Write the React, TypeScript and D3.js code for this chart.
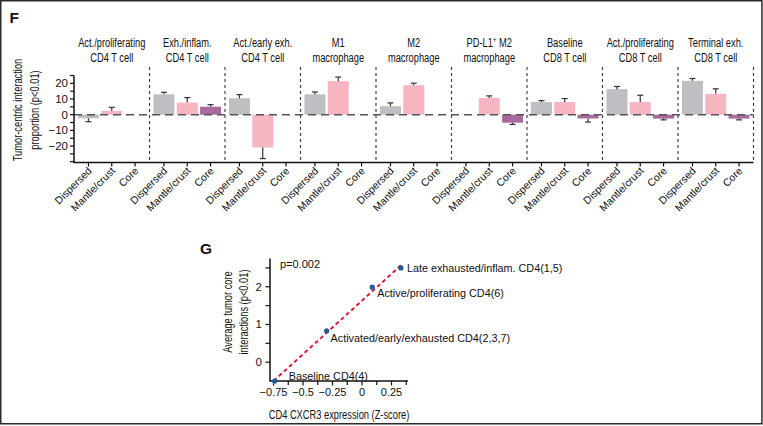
import React from "react";
import * as d3 from "d3";

// ---------- Panel F data ----------
const groupLine1 = [
  "Act./proliferating",
  "Exh./inflam.",
  "Act./early exh.",
  "M1",
  "M2",
  "PD-L1",
  "Baseline",
  "Act./proliferating",
  "Terminal exh.",
];
const groupLine2 = [
  "CD4 T cell",
  "CD4 T cell",
  "CD4 T cell",
  "macrophage",
  "macrophage",
  "macrophage",
  "CD8 T cell",
  "CD8 T cell",
  "CD8 T cell",
];
const zones = ["Dispersed", "Mantle/crust", "Core"];
const dispersedVals = [-2.3, 13, 10.5, 13, 5.4, 0, 8.1, 16.3, 21.6];
const dispersedErr = [2.2, 1.3, 2.3, 1.5, 2.1, 0, 0.9, 1.7, 1.5];
const mantleVals = [2.4, 7.7, -20.9, 21.4, 18.8, 10.7, 8.1, 8.1, 13.3];
const mantleErr = [2.3, 3.2, 7.1, 2.6, 1.3, 1.3, 2.2, 4.3, 3.2];
const coreVals = [0, 5.1, 0, 0, 0, -5.1, -2.4, -2.5, -2.5];
const coreErr = [0, 1.3, 0, 0, 0, 1.1, 2.3, 0.8, 0.8];
const zoneColors = ["#bfbec3", "#f7b5c2", "#a8699c"];
const fYTicks = [-30, -25, -20, -15, -10, -5, 0, 5, 10, 15, 20, 25];
const fYLabels = [-20, -10, 0, 10, 20];

// ---------- Panel G data ----------
const gLabels = [
  "Baseline CD4(4)",
  "Activated/early/exhausted CD4(2,3,7)",
  "Active/proliferating CD4(6)",
  "Late exhausted/inflam. CD4(1,5)",
];
const gX = [-0.74, -0.3, 0.087, 0.33];
const gY = [-0.5, 0.83, 1.99, 2.5];
const fitX = [-0.75, 0.33];
const fitY = [-0.5, 2.57];
const gXTicks = [-0.75, -0.5, -0.25, 0, 0.25];
const gXLabels = ["−0.75", "−0.5", "−0.25", "0", "0.25"];
const gXMinor = [-0.625, -0.375, -0.125, 0.125, 0.375];
const gYTicks = [0, 0.5, 1, 1.5, 2, 2.5];
const gYLabels = [0, 1, 2];

const SANS = "'Liberation Sans', Arial, Helvetica, sans-serif";
const SX = 0.69;

function CText(props: {
  x: number;
  y: number;
  rot?: number;
  size?: number;
  anchor?: string;
  children: React.ReactNode;
}) {
  const { x, y, rot = 0, size = 13.5, anchor = "middle", children } = props;
  return (
    <text
      transform={`translate(${x},${y}) rotate(${rot}) scale(${SX},1)`}
      textAnchor={anchor}
      fontFamily={SANS}
      fontSize={size}
      fill="#111"
    >
      {children}
    </text>
  );
}

const fmt = (v: number) => (v < 0 ? "−" + Math.abs(v) : String(v));

export default function App() {
  // ---- Panel F scales ----
  const groupIdx = groupLine1.map((_, i) => i);
  const xg = d3.scaleBand<number>().domain(groupIdx).range([74, 753.5]).padding(0);
  const xz = d3
    .scalePoint<string>()
    .domain(zones)
    .range([0, xg.bandwidth()])
    .padding(0.62);
  const yF = d3.scaleLinear().domain([-30.5, 25]).range([162.5, 75.5]);
  const barW = 21;
  const series = [
    { vals: dispersedVals, errs: dispersedErr },
    { vals: mantleVals, errs: mantleErr },
    { vals: coreVals, errs: coreErr },
  ];
  const y0 = yF(0);
  const axisBottom = yF(-30.5);

  // ---- Panel G scales ----
  const xG = d3.scaleLinear().domain([-0.78, 0.39]).range([270, 408]);
  const yG = d3.scaleLinear().domain([-0.5, 2.75]).range([381, 258.5]);
  const fitLine = d3
    .line<number>()
    .x((_, i) => xG(fitX[i]))
    .y((_, i) => yG(fitY[i]));
  const labelDx = [14, 4, 5, 6];
  const labelDy = [-1, 11, 10, 4];

  return (
    <svg
      width={763}
      height={426}
      style={{ position: "absolute", left: 0, top: 0, background: "#fff" }}
    >
      <rect x={0.75} y={0.75} width={761.2} height={423} fill="none" stroke="#2b2b2b" strokeWidth={1.5} />

      {/* ================= Panel F ================= */}
      <text x={9.5} y={23} fontFamily={SANS} fontWeight="bold" fontSize={15.5} fill="#111">
        F
      </text>

      {/* Y axis title */}
      <CText x={21.5} y={110} rot={-90}>
        Tumor-centric interaction
      </CText>
      <CText x={38.5} y={110} rot={-90}>
        proportion (p&lt;0.01)
      </CText>

      {/* group titles */}
      {groupIdx.map((i) => {
        const cx = (xg(i) as number) + xg.bandwidth() / 2;
        return (
          <g key={"t" + i}>
            <CText x={cx} y={47}>
              {groupLine1[i]}
              {i === 5 ? (
                <>
                  <tspan dy={-4.5} fontSize={8.5}>
                    +
                  </tspan>
                  <tspan dy={4.5}> M2</tspan>
                </>
              ) : null}
            </CText>
            <CText x={cx} y={62}>
              {groupLine2[i]}
            </CText>
          </g>
        );
      })}

      {/* bars */}
      {series.map((s, si) =>
        groupIdx.map((gi) => {
          const v = s.vals[gi];
          if (v === 0) return null;
          const cx = (xg(gi) as number) + (xz(zones[si]) as number);
          const yv = yF(v);
          const e = v >= 0 ? v + s.errs[gi] : v - s.errs[gi];
          const ye = yF(e);
          return (
            <g key={`b${si}-${gi}`}>
              <rect
                x={cx - barW / 2}
                y={Math.min(yv, y0)}
                width={barW}
                height={Math.abs(yv - y0)}
                fill={zoneColors[si]}
              />
              <line x1={cx} x2={cx} y1={yv} y2={ye} stroke="#333" strokeWidth={1.2} />
              <line x1={cx - 3} x2={cx + 3} y1={ye} y2={ye} stroke="#333" strokeWidth={1.2} />
            </g>
          );
        })
      )}

      {/* zero line */}
      <line x1={74} x2={753.5} y1={y0} y2={y0} stroke="#555" strokeWidth={1.5} strokeDasharray="8,5" />

      {/* dividers */}
      {groupIdx.map((i) => {
        const xr = (xg(i) as number) + xg.bandwidth();
        return (
          <line
            key={"d" + i}
            x1={xr}
            x2={xr}
            y1={67}
            y2={axisBottom}
            stroke="#444"
            strokeWidth={1.2}
            strokeDasharray="3,3"
          />
        );
      })}

      {/* y axis */}
      <line x1={74} x2={74} y1={yF(25)} y2={axisBottom} stroke="#111" strokeWidth={1.5} />
      {fYTicks.map((t) => (
        <line key={"yt" + t} x1={70} x2={74} y1={yF(t)} y2={yF(t)} stroke="#111" strokeWidth={1.2} />
      ))}
      {fYLabels.map((t) => (
        <text
          key={"yl" + t}
          x={68}
          y={yF(t) + 4}
          textAnchor="end"
          fontFamily={SANS}
          fontSize={11.5}
          fill="#111"
        >
          {fmt(t)}
        </text>
      ))}

      {/* x axis */}
      <line x1={73.25} x2={753.5} y1={axisBottom} y2={axisBottom} stroke="#111" strokeWidth={1.5} />
      {groupIdx.map((gi) =>
        zones.map((z) => {
          const cx = (xg(gi) as number) + (xz(z) as number);
          return (
            <g key={`xt${gi}-${z}`}>
              <line x1={cx} x2={cx} y1={axisBottom} y2={axisBottom + 4} stroke="#111" strokeWidth={1.2} />
              <text
                transform={`translate(${cx + 4},${axisBottom + 9}) rotate(-45)`}
                textAnchor="end"
                fontFamily={SANS}
                fontSize={10.5}
                fill="#111"
              >
                {z}
              </text>
            </g>
          );
        })
      )}

      {/* ================= Panel G ================= */}
      <text x={200} y={254} fontFamily={SANS} fontWeight="bold" fontSize={15.5} fill="#111">
        G
      </text>
      <CText x={231.5} y={312} rot={-90}>
        Average tumor core
      </CText>
      <CText x={247.5} y={312} rot={-90}>
        interactions (p&lt;0.01)
      </CText>
      <CText x={339} y={418.5}>
        CD4 CXCR3 expression (Z-score)
      </CText>

      <text x={280} y={268} fontFamily={SANS} fontSize={11} fill="#111">
        p=0.002
      </text>

      {/* axes */}
      <line x1={270} x2={270} y1={258.5} y2={381} stroke="#111" strokeWidth={1.5} />
      <line x1={269.25} x2={408} y1={381} y2={381} stroke="#111" strokeWidth={1.5} />
      {gYTicks.map((t) => (
        <line key={"gyt" + t} x1={265.5} x2={270} y1={yG(t)} y2={yG(t)} stroke="#111" strokeWidth={1.2} />
      ))}
      {gYLabels.map((t) => (
        <text key={"gyl" + t} x={262} y={yG(t) + 4} textAnchor="end" fontFamily={SANS} fontSize={11.5} fill="#111">
          {t}
        </text>
      ))}
      {gXTicks.map((t, i) => (
        <g key={"gxt" + t}>
          <line x1={xG(t)} x2={xG(t)} y1={381} y2={385.5} stroke="#111" strokeWidth={1.2} />
          <text x={xG(t)} y={396} textAnchor="middle" fontFamily={SANS} fontSize={11} fill="#111">
            {gXLabels[i]}
          </text>
        </g>
      ))}
      {gXMinor.map((t) => (
        <line key={"gxm" + t} x1={xG(t)} x2={xG(t)} y1={381} y2={385} stroke="#111" strokeWidth={1.2} />
      ))}

      {/* fit line */}
      <path
        d={fitLine([0, 1]) as string}
        fill="none"
        stroke="#d91e3c"
        strokeWidth={2}
        strokeDasharray="4,3"
      />

      {/* points + labels */}
      {gX.map((xv, i) => (
        <g key={"gp" + i}>
          <circle cx={xG(xv)} cy={yG(gY[i])} r={2.6} fill="#1f5b99" />
          <text
            x={xG(xv) + labelDx[i]}
            y={yG(gY[i]) + labelDy[i]}
            fontFamily={SANS}
            fontSize={10.8}
            fill="#111"
          >
            {gLabels[i]}
          </text>
        </g>
      ))}
    </svg>
  );
}
